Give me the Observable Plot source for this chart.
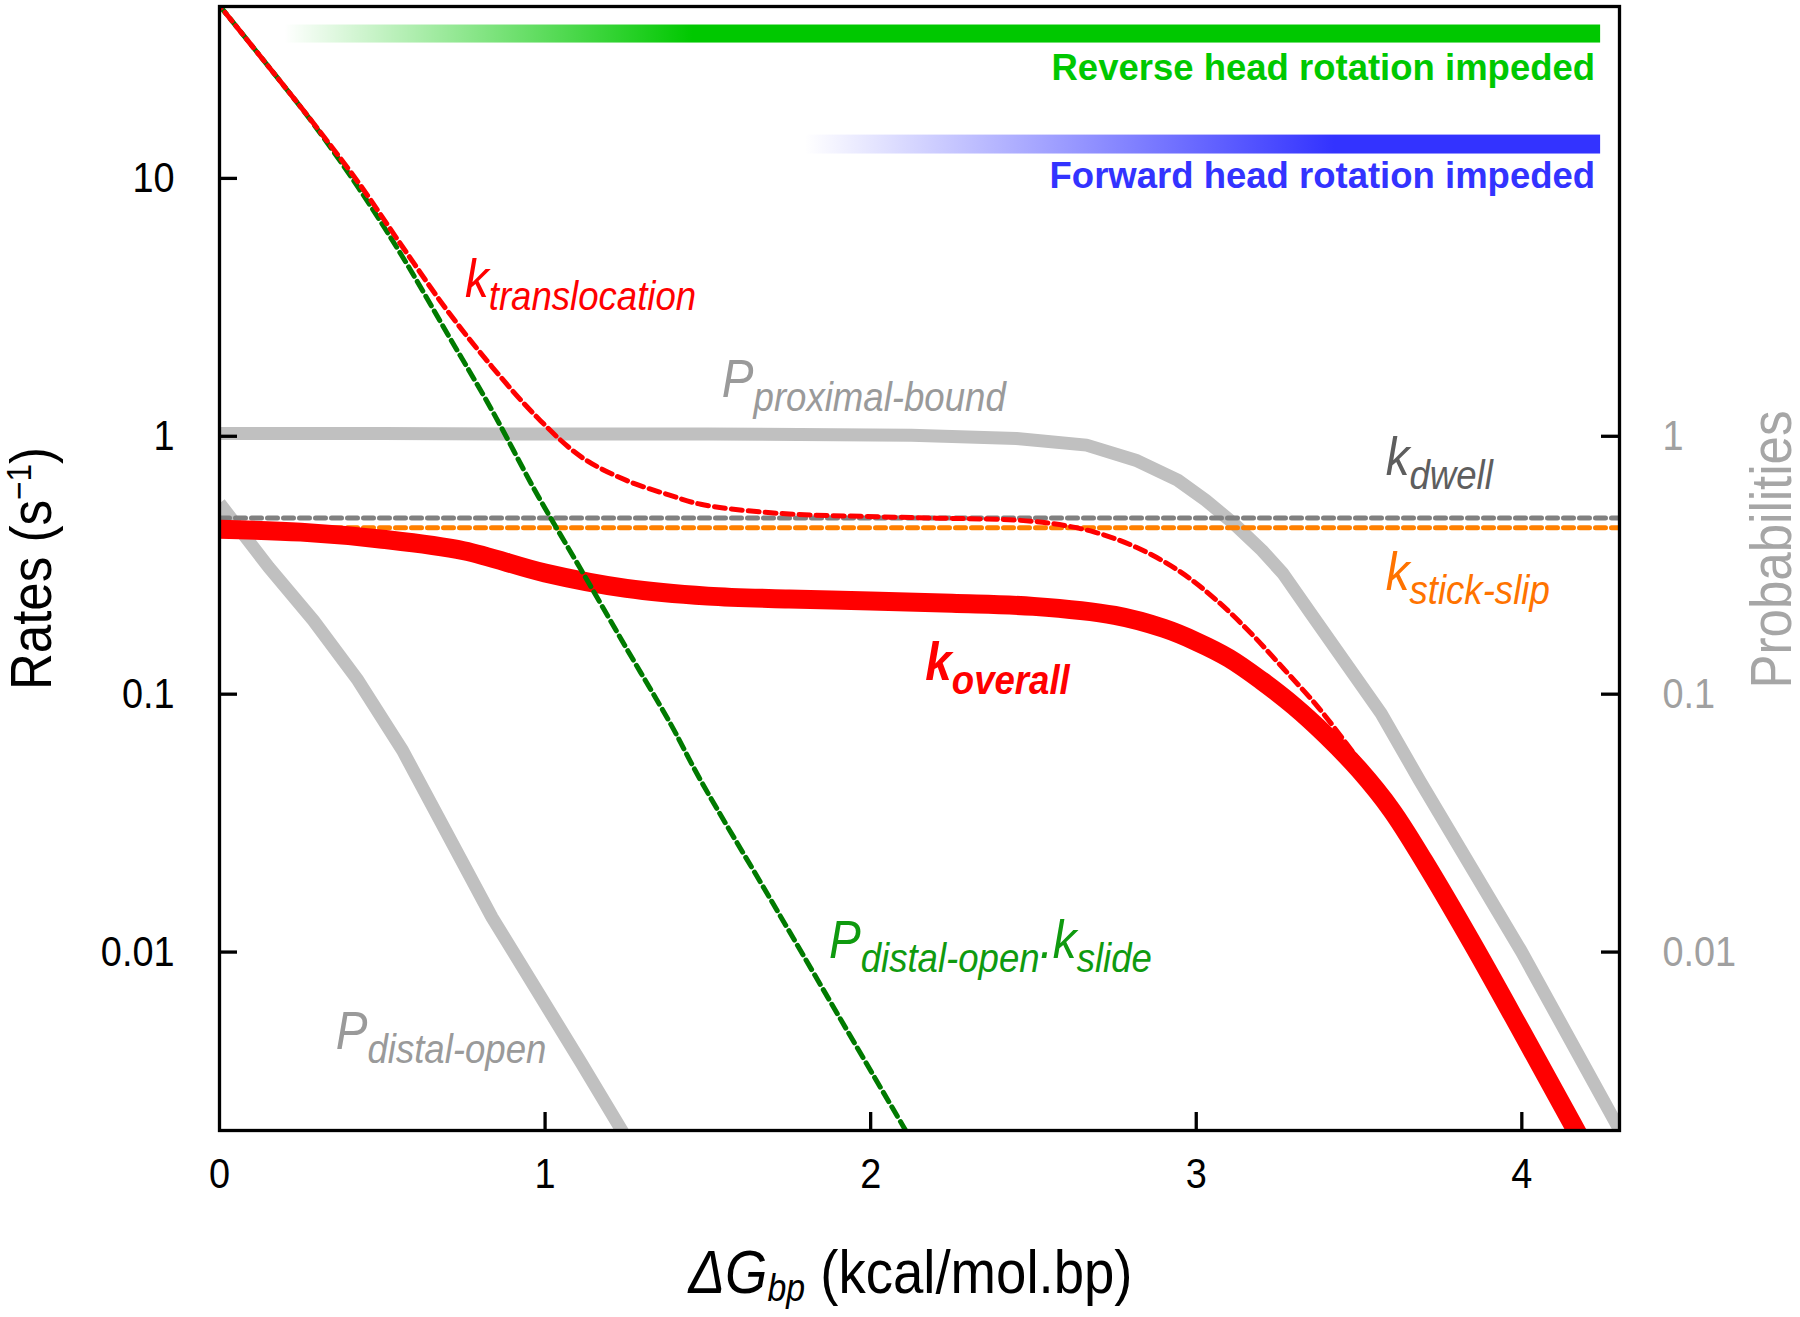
<!DOCTYPE html>
<html>
<head>
<meta charset="utf-8">
<script src="https://cdn.jsdelivr.net/npm/d3@7"></script>
<script src="https://cdn.jsdelivr.net/npm/@observablehq/plot@0.6"></script>
<style>
  html, body { margin: 0; padding: 0; background: #fff; }
  #chart svg { display: block; }
</style>
</head>
<body>
<div id="chart"></div>
<script>
// ---------------- data ----------------
const X_DOMAIN = [0, 4.3];
const Y_DOMAIN = [0.002033, 46.4];
const xTicks = [0, 1, 2, 3, 4];
const yTicksLeft = [10, 1, 0.1, 0.01];
const yTicksRight = [1, 0.1, 0.01];

// k_overall (thick red)
const xOverall = [0, 0.25, 0.5, 0.75, 1.0, 1.25, 1.5, 1.75, 2.0, 2.25, 2.5, 2.75, 2.9, 3.0, 3.1, 3.2, 3.3, 3.4, 3.5, 3.6, 3.7, 3.85, 4.0, 4.15, 4.3];
const kOverall = [0.436, 0.425, 0.399, 0.36, 0.295, 0.257, 0.240, 0.234, 0.230, 0.225, 0.219, 0.202, 0.180, 0.160, 0.138, 0.113, 0.090, 0.069, 0.051, 0.0355, 0.0225, 0.0107, 0.0049, 0.00222, 0.0010];

// k_translocation (red dashed)
const xTransloc = [0, 0.151, 0.288, 0.425, 0.562, 0.699, 0.837, 0.974, 1.111, 1.248, 1.385, 1.478, 1.694, 2.125, 2.448, 2.556, 2.685, 2.814, 2.943, 3.051, 3.159, 3.267, 3.374, 3.46, 3.52, 3.56];
const kTransloc = [46.8, 27.1, 16.4, 9.7, 5.43, 3.08, 1.86, 1.19, 0.832, 0.676, 0.590, 0.545, 0.505, 0.484, 0.473, 0.459, 0.426, 0.372, 0.303, 0.238, 0.177, 0.126, 0.0891, 0.0646, 0.0513, 0.0437];

// P_distal-open . k_slide (green dashed)
const xSlide = [0, 0.151, 0.288, 0.425, 0.562, 0.699, 0.837, 0.974, 1.111, 1.248, 1.385, 1.478, 1.694, 1.909, 2.103, 2.2];
const kSlide = [46.8, 27.1, 16.3, 9.27, 4.97, 2.51, 1.26, 0.600, 0.303, 0.152, 0.0769, 0.0463, 0.0159, 0.00545, 0.00208, 0.00129];

// P_proximal-bound (thick gray)
const xProximal = [0, 0.5, 1.0, 1.5, 2.125, 2.448, 2.663, 2.814, 2.943, 3.029, 3.115, 3.202, 3.266, 3.352, 3.46, 3.568, 3.686, 3.999, 4.3];
const pProximal = [1.025, 1.025, 1.02, 1.02, 1.01, 0.98, 0.924, 0.808, 0.676, 0.565, 0.459, 0.361, 0.294, 0.2055, 0.1315, 0.0841, 0.0463, 0.01004, 0.00205];

// P_distal-open (thick gray)
const xDistal = [0, 0.151, 0.288, 0.425, 0.562, 0.837, 1.111, 1.234, 1.3];
const pDistal = [0.55, 0.311, 0.1935, 0.1133, 0.0606, 0.01364, 0.00372, 0.00205, 0.00148];

// constant rates (dashed)
const xConst = [0, 4.3];
const kDwell = [0.482, 0.482];
const kStickSlip = [0.442, 0.442];

// curve labels (rich text: _{sub}, ^{sup}, *{italic})
const labelText  = ["k_{translocation}", "P_{proximal-bound}", "k_{dwell}", "k_{stick-slip}", "k_{overall}", "P_{distal-open}", "P_{distal-open}.k_{slide}"];
const labelX     = [0.754, 1.543, 3.582, 3.582, 2.168, 0.357, 1.872];
const labelY     = [3.474, 1.418, 0.7066, 0.2529, 0.1132, 0.0042, 0.00945];
const labelColor = ["#ff0000", "#9a9a9a", "#5e5e5e", "#ff7300", "#ff0000", "#9a9a9a", "#0f9a0f"];
const labelBold  = [false, false, false, false, true, false, false];

// top gradient bands
const bandLabel = ["Reverse head rotation impeded", "Forward head rotation impeded"];
const bandColor = ["#00c800", "#3333ff"];
const bandX1 = [0.2, 1.8];
const bandX2 = [4.242, 4.242];
const bandYlo = [33.48, 12.43];
const bandYhi = [39.33, 14.72];
const bandSolidAt = [0.31, 0.665];
const bandTextX = [4.225, 4.225];
const bandTextY = [24.06, 9.17];

// ---------------- build ----------------
const FONT = "'Liberation Sans', Arial, Helvetica, sans-serif";
const pts = (xs, ys) => xs.map((x, i) => ({x, y: ys[i]}));
const labels = labelText.map((t, i) => ({text: t, x: labelX[i], y: labelY[i], color: labelColor[i], bold: labelBold[i]}));
const bands = bandLabel.map((l, i) => ({
  label: l, color: bandColor[i], grad: `url(#band${i})`,
  x1: bandX1[i], x2: bandX2[i], y1: bandYlo[i], y2: bandYhi[i], tx: bandTextX[i], ty: bandTextY[i]
}));

const W = 1800, H = 1317, mT = 6, mR = 181, mB = 187, mL = 219;
const plotW = W - mL - mR, plotH = H - mT - mB;
const TICK = 18;
const fmt = d => String(d);
const labelOpts = {x: "x", y: "y", text: "text", fill: "color", fontStyle: "italic", fontSize: 54, textAnchor: "start", lineAnchor: "bottom"};

const svg = Plot.plot({
  width: W, height: H,
  marginTop: mT, marginRight: mR, marginBottom: mB, marginLeft: mL,
  style: {background: "#fff", fontFamily: FONT, overflow: "visible"},
  x: {domain: X_DOMAIN},
  y: {type: "log", domain: Y_DOMAIN},
  color: {type: "identity"},
  marks: [
    Plot.rect(bands, {x1: "x1", x2: "x2", y1: "y1", y2: "y2", fill: "grad"}),
    Plot.text(bands, {x: "tx", y: "ty", text: "label", fill: "color", textAnchor: "end", lineAnchor: "bottom",
      fontWeight: "bold", fontSize: 36.5}),
    Plot.line(pts(xDistal, pDistal), {x: "x", y: "y", stroke: "#c0c0c0", strokeWidth: 13, strokeLinecap: "butt", clip: true}),
    Plot.line(pts(xProximal, pProximal), {x: "x", y: "y", stroke: "#c0c0c0", strokeWidth: 13, strokeLinecap: "butt", clip: true}),
    Plot.line(pts(xConst, kDwell), {x: "x", y: "y", stroke: "#808080", strokeWidth: 5, strokeDasharray: "10,6", clip: true}),
    Plot.line(pts(xConst, kStickSlip), {x: "x", y: "y", stroke: "#ff8000", strokeWidth: 5, strokeDasharray: "10,6", clip: true}),
    Plot.line(pts(xOverall, kOverall), {x: "x", y: "y", stroke: "#ff0000", strokeWidth: 19, curve: "catmull-rom", strokeLinecap: "butt", clip: true}),
    Plot.line(pts(xSlide, kSlide), {x: "x", y: "y", stroke: "#007a00", strokeWidth: 5, strokeDasharray: "11,6", curve: "catmull-rom", clip: true}),
    Plot.line(pts(xTransloc, kTransloc), {x: "x", y: "y", stroke: "#ff0000", strokeWidth: 5, strokeDasharray: "11,6", strokeDashoffset: 8, curve: "catmull-rom", clip: true}),
    Plot.text(labels.filter(d => !d.bold), {...labelOpts}),
    Plot.text(labels.filter(d => d.bold), {...labelOpts, fontWeight: "bold"}),
    // inward ticks
    Plot.tickX(xTicks.filter(d => d > 0), {x: d => d, insetTop: plotH - TICK, stroke: "#000", strokeWidth: 3.3}),
    Plot.tickY(yTicksLeft, {y: d => d, insetRight: plotW - TICK, stroke: "#000", strokeWidth: 3.3}),
    Plot.tickY(yTicksRight, {y: d => d, insetLeft: plotW - TICK, stroke: "#000", strokeWidth: 3.3}),
    Plot.frame({stroke: "#000", strokeWidth: 3.3}),
    // axis labels
    Plot.axisX({ticks: xTicks, tickSize: 0, tickPadding: 27, tickFormat: fmt, fontSize: 43, label: null, fill: "#000"}),
    Plot.axisY({anchor: "left", ticks: yTicksLeft, tickSize: 0, tickPadding: 45, tickFormat: fmt, fontSize: 43, label: null, fill: "#000"}),
    Plot.axisY({anchor: "right", ticks: yTicksRight, tickSize: 0, tickPadding: 43, tickFormat: fmt, fontSize: 43, label: null, fill: "#a0a0a0"}),
    // axis titles
    Plot.text(["Rates (s^{−1})"], {frameAnchor: "left", dx: -(mL - 50), rotate: -90, textAnchor: "middle",
      lineAnchor: "bottom", fontSize: 58, fill: "#000"}),
    Plot.text(["Probabilities"], {frameAnchor: "right", dx: 171, dy: -19, rotate: -90, textAnchor: "middle",
      lineAnchor: "bottom", fontSize: 58, fill: "#a6a6a6"}),
    Plot.text(["*{ΔG}*_{bp} (kcal/mol.bp)"], {frameAnchor: "bottom", dx: -9, dy: 162, textAnchor: "middle",
      lineAnchor: "bottom", fontSize: 62, fill: "#000"})
  ]
});

document.getElementById("chart").appendChild(svg);

// ---------------- post-processing: rich text, condensed glyphs, gradients ----------------
const NS = "http://www.w3.org/2000/svg";
function richify(root) {
  root.querySelectorAll("text").forEach(el => {
    const s = el.textContent;
    if (!/[_^*]\{/.test(s)) return;
    const fs = parseFloat(getComputedStyle(el).fontSize) || 54;
    const big = fs >= 60;                 // axis title: smaller, less-dropped subscript
    const subScale = big ? 0.62 : 0.77;
    const subShift = big ? 0.14 : 0.25;
    el.textContent = "";
    const re = /(\*?[_^]?)\{([^}]*)\}|([^{}_^*]+)/g;
    let m, shift = 0;
    while ((m = re.exec(s))) {
      const pre = m[1] || "";
      const txt = m[2] !== undefined ? m[2] : m[3];
      const ts = document.createElementNS(NS, "tspan");
      let target = 0, size = null;
      if (pre.includes("_")) { target = subShift * fs; size = subScale * fs; }
      else if (pre.includes("^")) { target = -0.33 * fs; size = 0.62 * fs; }
      if (pre.includes("*")) ts.setAttribute("font-style", "italic");
      ts.setAttribute("dy", (target - shift).toFixed(2));
      shift = target;
      if (size) ts.setAttribute("font-size", size.toFixed(2));
      ts.textContent = txt;
      el.appendChild(ts);
    }
  });
}
richify(svg);

// condensed lettering like the reference (all but the bold band captions)
svg.querySelectorAll("text").forEach(el => {
  if (el.textContent.includes("impeded")) return;
  const t = el.getAttribute("transform");
  if (t) el.setAttribute("transform", t + " scale(0.88,1)");
});

// gradient definitions for the top bands
const defs = d3.select(svg).insert("defs", ":first-child");
bands.forEach((b, i) => {
  const g = defs.append("linearGradient").attr("id", `band${i}`)
    .attr("x1", "0").attr("x2", "1").attr("y1", "0").attr("y2", "0");
  g.append("stop").attr("offset", 0).attr("stop-color", b.color).attr("stop-opacity", 0);
  g.append("stop").attr("offset", bandSolidAt[i]).attr("stop-color", b.color).attr("stop-opacity", 1);
  g.append("stop").attr("offset", 1).attr("stop-color", b.color).attr("stop-opacity", 1);
});
</script>
</body>
</html>
